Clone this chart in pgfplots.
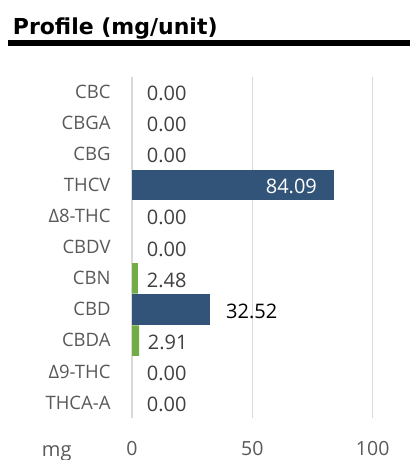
\documentclass[border=0pt]{standalone}
\usepackage{pgfplots}
\pgfplotsset{compat=1.18}
\usepackage{fontspec}
\setmainfont{Open Sans}
\newfontfamily\titlefont{DejaVu Sans}
\definecolor{barblue}{HTML}{335479}
\definecolor{bargreen}{HTML}{70AD47}
\definecolor{gridgray}{HTML}{D9D9D9}
\definecolor{labgray}{HTML}{595959}
\definecolor{valgray}{HTML}{404040}
\begin{document}
\begin{tikzpicture}
\useasboundingbox (0,0) rectangle (410bp,460bp);
\node[anchor=base west, inner sep=0pt] at (12.7bp,425bp) {\titlefont\bfseries\fontsize{22bp}{26bp}\selectfont Profile (mg/unit)};
\fill[black] (8.3bp,414bp) rectangle (410bp,420bp);
\node[anchor=base, inner sep=0pt, text=labgray] at (56.7bp,4bp) {\fontsize{20bp}{24bp}\selectfont mg};
\begin{axis}[
  at={(132bp,41.8bp)}, anchor=south west,
  scale only axis, width=240.7bp, height=341.7bp,
  xmin=0, xmax=100, ymin=-0.5, ymax=10.5,
  y dir=reverse,
  clip=false,
  xbar, bar width=30.5bp,
  axis line style={draw=none},
  major tick length=0pt,
  xtick={0,50,100},
  ytick={0,...,10},
  yticklabels={CBC,CBGA,CBG,THCV,Δ8-THC,CBDV,CBN,CBD,CBDA,Δ9-THC,THCA-A},
  yticklabel style={anchor=base east, inner sep=0pt, xshift=-21.3bp, yshift=-6.4bp, text=labgray, font=\fontsize{18.5bp}{22bp}\selectfont},
  xticklabel style={anchor=base, inner sep=0pt, yshift=-36.8bp, text=labgray, font=\fontsize{19.5bp}{23bp}\selectfont, /pgf/number format/assume math mode=true},
  xmajorgrids,
  grid style={color=gridgray, line width=1.5bp},
  every node near coord/.append style={inner sep=0pt, font=\fontsize{20bp}{24bp}\selectfont},
  nodes near coords={\pgfmathprintnumber[fixed,fixed zerofill,precision=2,assume math mode=true]{\pgfplotspointmeta}},
]
% zeros
\addplot[draw=none, fill=none, bar shift=0pt,
  every node near coord/.append style={anchor=base west, xshift=14.7bp, yshift=-8.7bp, text=valgray}]
  coordinates {(0,0) (0,1) (0,2) (0,4) (0,5) (0,9) (0,10)};
% THCV
\addplot[draw=none, fill=barblue, bar shift=0pt,
  every node near coord/.append style={anchor=base east, xshift=-17.3bp, yshift=-8.7bp, text=white}]
  coordinates {(84.09,3)};
% CBD
\addplot[draw=none, fill=barblue, bar shift=0pt,
  every node near coord/.append style={anchor=base west, xshift=15.7bp, yshift=-8.7bp, text=black}]
  coordinates {(32.52,7)};
% green
\addplot[draw=none, fill=bargreen, bar shift=0pt,
  every node near coord/.append style={anchor=base west, xshift=8.7bp, yshift=-8.7bp, text=valgray}]
  coordinates {(2.48,6) (2.91,8)};
\end{axis}
\end{tikzpicture}
\end{document}
